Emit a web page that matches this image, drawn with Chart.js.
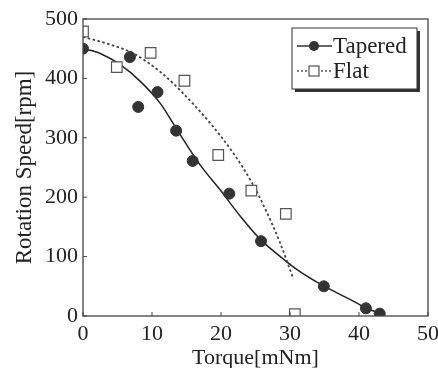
<!DOCTYPE html>
<html>
<head>
<meta charset="utf-8">
<script src="https://cdn.jsdelivr.net/npm/chart.js@4.4.0/dist/chart.umd.min.js"></script>
<style>
  html, body { margin: 0; padding: 0; background: #fff; }
  #wrap { width: 438px; height: 368px; }
</style>
</head>
<body>
<div id="wrap"><canvas id="speedChart" width="438" height="368"></canvas></div>
<script>
const taperedTorque = [0, 6.8, 8.0, 10.8, 13.5, 15.9, 21.2, 25.8, 34.9, 41.0, 43.0];
const taperedSpeed  = [450, 436, 352, 377, 312, 261, 206, 126, 50, 13, 4];
const flatTorque = [0, 4.9, 9.8, 14.7, 19.6, 24.4, 29.4, 30.7];
const flatSpeed  = [479, 419, 443, 396, 271, 211, 172, 3];

// fitted curves
const taperedFitTorque = [0, 2.5, 5.4, 8.3, 11.2, 13.5, 17.0, 19.9, 22.8, 25.7, 28.6, 31.4, 34.8, 38.7, 41.1, 43.1];
const taperedFitSpeed  = [450, 442, 423, 395, 358, 316, 254, 212, 168, 129, 100, 75, 51, 28, 13, 4];
const flatFitTorque = [0, 3.4, 7.3, 11.2, 14.5, 18.4, 21.8, 24.5, 26.5, 28.5, 30.5];
const flatFitSpeed  = [470, 459, 442, 411, 375, 325, 274, 224, 178, 125, 62];

const xTicks = [0, 10, 20, 30, 40, 50];
const yTicks = [0, 100, 200, 300, 400, 500];

const toXY = (xs, ys) => xs.map((x, i) => ({ x: x, y: ys[i] }));
const serif = "'Liberation Serif', 'Times New Roman', 'DejaVu Serif', serif";

// frame round the plot plus inward tick marks
const frame = {
   id: 'frame',
   afterDraw(chart) {
      const { ctx, chartArea: a, scales } = chart;
      ctx.save();
      ctx.strokeStyle = '#444';
      ctx.lineWidth = 1.3;
      ctx.strokeRect(a.left, a.top, a.right - a.left, a.bottom - a.top);
      ctx.lineWidth = 1;
      xTicks.forEach(t => {
         const px = scales.x.getPixelForValue(t);
         ctx.beginPath(); ctx.moveTo(px, a.bottom); ctx.lineTo(px, a.bottom - 4); ctx.stroke();
      });
      yTicks.forEach(t => {
         const py = scales.y.getPixelForValue(t);
         ctx.beginPath(); ctx.moveTo(a.left, py); ctx.lineTo(a.left + 4, py); ctx.stroke();
      });
      ctx.restore();
   }
};

// legend box inside the plot, top right
const boxLegend = {
   id: 'boxLegend',
   afterDraw(chart) {
      const ctx = chart.ctx;
      const bx = 292, by = 28, bw = 125, bh = 61;
      ctx.save();
      ctx.fillStyle = '#333';
      ctx.fillRect(bx + 3, by + 3, bw, bh);
      ctx.fillStyle = '#fff';
      ctx.fillRect(bx, by, bw, bh);
      ctx.strokeStyle = '#333';
      ctx.lineWidth = 1;
      ctx.strokeRect(bx, by, bw, bh);

      const rows = [
         { label: chart.data.datasets[0].label, y: by + 18, dash: [], marker: 'circle' },
         { label: chart.data.datasets[2].label, y: by + 43, dash: [2, 2], marker: 'rect' }
      ];
      rows.forEach(r => {
         ctx.strokeStyle = '#333';
         ctx.lineWidth = r.marker === 'circle' ? 1.3 : 1.2;
         ctx.setLineDash(r.dash);
         ctx.beginPath(); ctx.moveTo(bx + 5, r.y); ctx.lineTo(bx + 40, r.y); ctx.stroke();
         ctx.setLineDash([]);
         if (r.marker === 'circle') {
            ctx.fillStyle = '#333';
            ctx.beginPath(); ctx.arc(bx + 22, r.y, 5, 0, Math.PI * 2); ctx.fill();
         } else {
            ctx.fillStyle = '#fff';
            ctx.fillRect(bx + 17, r.y - 5, 10, 10);
            ctx.strokeStyle = '#555';
            ctx.strokeRect(bx + 17, r.y - 5, 10, 10);
         }
         ctx.fillStyle = '#222';
         ctx.font = '23px ' + serif;
         ctx.textBaseline = 'middle';
         ctx.fillText(r.label, bx + 41, r.y + 1);
      });
      ctx.restore();
   }
};

const ctx = document.getElementById('speedChart').getContext('2d');
const speedChart = new Chart(ctx, {
   type: 'scatter',
   data: {
      datasets: [
         {
            label: 'Tapered',
            data: toXY(taperedTorque, taperedSpeed),
            showLine: false,
            pointStyle: 'circle',
            pointRadius: 5.5,
            backgroundColor: '#333',
            borderColor: '#333',
            order: 1
         },
         {
            label: 'Tapered fit',
            data: toXY(taperedFitTorque, taperedFitSpeed),
            showLine: true,
            pointRadius: 0,
            borderColor: '#222',
            borderWidth: 1.5,
            cubicInterpolationMode: 'monotone',
            order: 3
         },
         {
            label: 'Flat',
            data: toXY(flatTorque, flatSpeed),
            showLine: false,
            pointStyle: 'rect',
            pointRadius: 7.5,
            backgroundColor: '#fff',
            borderColor: '#555',
            borderWidth: 1.2,
            order: 0
         },
         {
            label: 'Flat fit',
            data: toXY(flatFitTorque, flatFitSpeed),
            showLine: true,
            pointRadius: 0,
            borderColor: '#444',
            borderWidth: 1.8,
            borderDash: [2.5, 2.5],
            cubicInterpolationMode: 'monotone',
            order: 2
         }
      ]
   },
   options: {
      responsive: false,
      animation: false,
      layout: { padding: { top: 19, right: 4, left: 0, bottom: 0 } },
      scales: {
         x: {
            min: 0, max: 50,
            afterBuildTicks: axis => { axis.ticks = xTicks.map(v => ({ value: v })); },
            afterFit: axis => { axis.height = 52; axis.paddingRight = 10; },
            grid: { display: false, drawTicks: false },
            border: { display: false },
            ticks: { color: '#222', font: { family: serif, size: 22 }, padding: 5 },
            title: { display: true, text: 'Torque[mNm]', color: '#222', font: { family: serif, size: 22 }, padding: { top: 0, bottom: -3 } }
         },
         y: {
            min: 0, max: 500,
            afterBuildTicks: axis => { axis.ticks = yTicks.map(v => ({ value: v })); },
            afterFit: axis => { axis.width = 83; },
            grid: { display: false, drawTicks: false },
            border: { display: false },
            ticks: { color: '#222', font: { family: serif, size: 22 }, padding: 5 },
            title: { display: true, text: 'Rotation Speed[rpm]', color: '#222', font: { family: serif, size: 23 }, padding: { top: 11, bottom: 0 } }
         }
      },
      plugins: {
         legend: { display: false },
         tooltip: { enabled: false }
      }
   },
   plugins: [frame, boxLegend]
});
</script>
</body>
</html>
